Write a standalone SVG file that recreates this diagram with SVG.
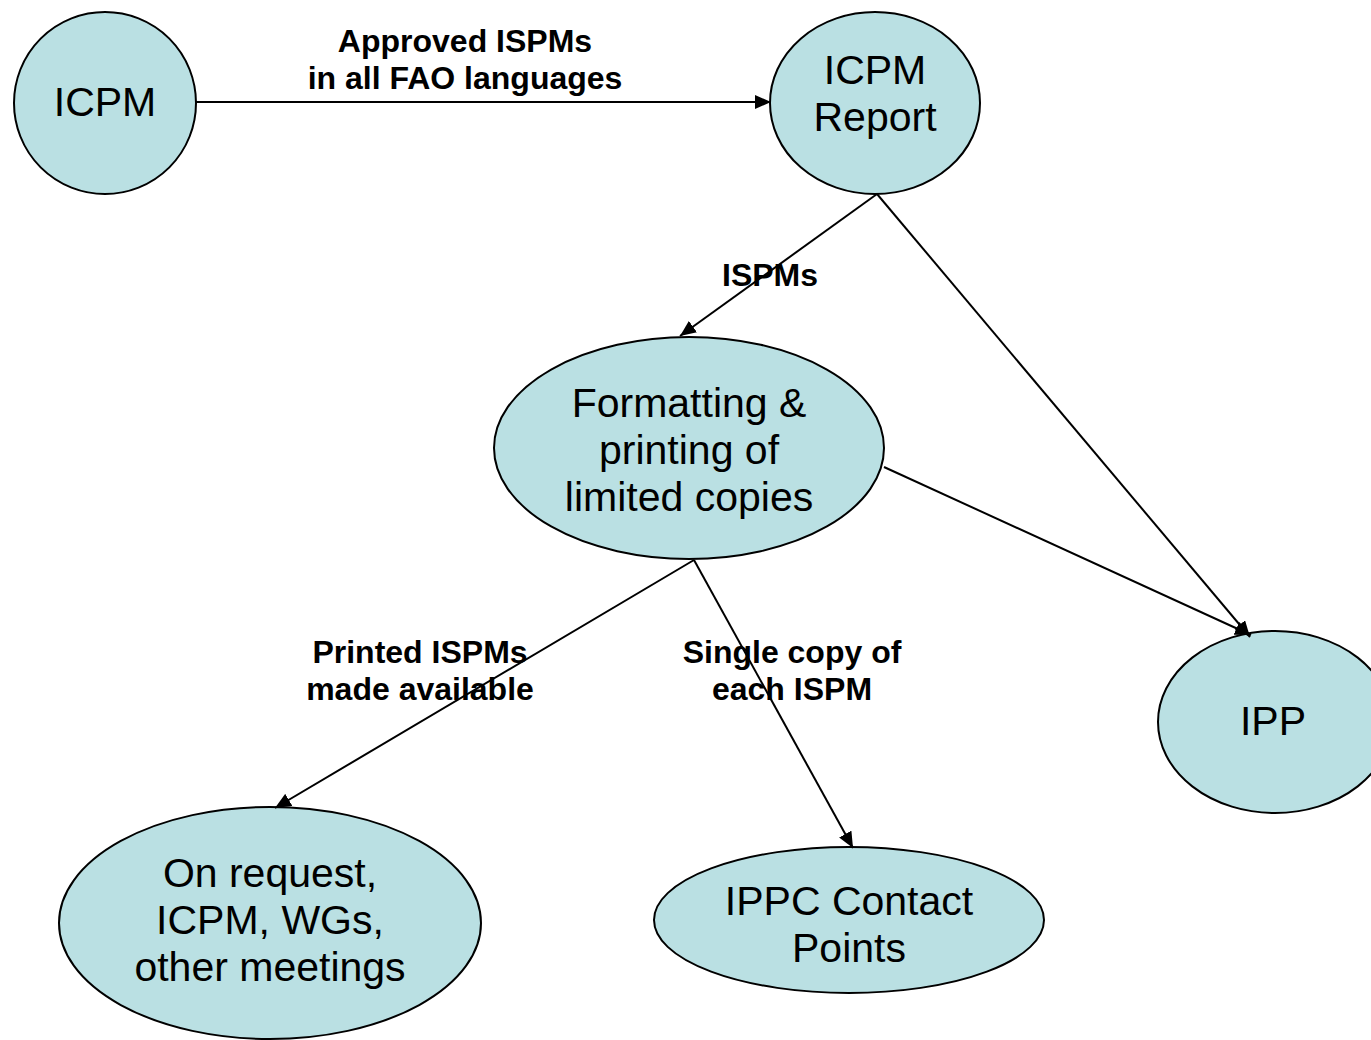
<svg xmlns="http://www.w3.org/2000/svg" width="1371" height="1040" viewBox="0 0 1371 1040">
<style>
.node{fill:#BAE0E3;stroke:#000;stroke-width:2}
.nt{font-family:"Liberation Sans",Arial,sans-serif;font-size:41px;fill:#000;text-anchor:middle}
.lt{font-family:"Liberation Sans",Arial,sans-serif;font-size:32px;font-weight:bold;fill:#000;text-anchor:middle}
.edge{stroke:#000;stroke-width:2;fill:none;marker-end:url(#arr)}
</style>
<defs>
<marker id="arr" markerUnits="userSpaceOnUse" markerWidth="18" markerHeight="14" refX="16" refY="7" orient="auto">
<path d="M0,0 L16,7 L0,14 Z" fill="#000"/>
</marker>
</defs>
<rect width="1371" height="1040" fill="#fff"/>
<g id="nodes">
<g id="icpm"><ellipse class="node" cx="105" cy="103" rx="91" ry="91"/><text class="nt" x="105" y="116">ICPM</text></g>
<g id="icpm-report"><ellipse class="node" cx="875" cy="103" rx="105" ry="91"/><text class="nt" x="875" y="84">ICPM</text><text class="nt" x="875" y="131">Report</text></g>
<g id="formatting"><ellipse class="node" cx="689" cy="448" rx="195" ry="111"/><text class="nt" x="689" y="417">Formatting &amp;</text><text class="nt" x="689" y="464">printing of</text><text class="nt" x="689" y="511">limited copies</text></g>
<g id="ipp"><ellipse class="node" cx="1275" cy="722" rx="117" ry="91"/><text class="nt" x="1273" y="735">IPP</text></g>
<g id="on-request"><ellipse class="node" cx="270" cy="923" rx="211" ry="116"/><text class="nt" x="270" y="887">On request,</text><text class="nt" x="270" y="934">ICPM, WGs,</text><text class="nt" x="270" y="981">other meetings</text></g>
<g id="ippc"><ellipse class="node" cx="849" cy="920" rx="195" ry="73"/><text class="nt" x="849" y="915">IPPC Contact</text><text class="nt" x="849" y="962">Points</text></g>
</g>
<g id="connectors">
<line class="edge" x1="196" y1="102" x2="771" y2="102"/>
<line class="edge" x1="877" y1="194" x2="680" y2="336"/>
<line class="edge" x1="877" y1="194" x2="1250" y2="637"/>
<line class="edge" x1="884" y1="467" x2="1251" y2="635"/>
<line class="edge" x1="694" y1="560" x2="275" y2="808"/>
<line class="edge" x1="694" y1="560" x2="853" y2="848"/>
<text class="lt" x="465" y="52">Approved ISPMs</text>
<text class="lt" x="465" y="89">in all FAO languages</text>
<text class="lt" x="770" y="286">ISPMs</text>
<text class="lt" x="420" y="663">Printed ISPMs</text>
<text class="lt" x="420" y="700">made available</text>
<text class="lt" x="792" y="663">Single copy of</text>
<text class="lt" x="792" y="700">each ISPM</text>
</g>
</svg>
